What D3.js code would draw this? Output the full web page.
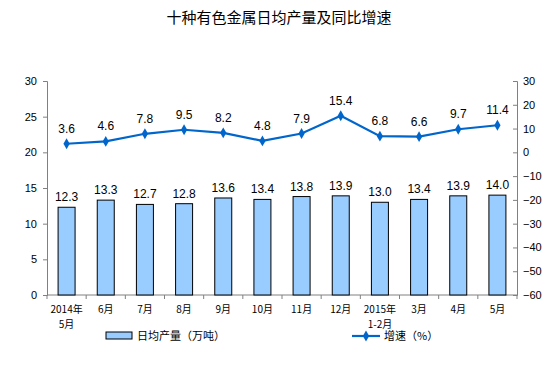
<!DOCTYPE html>
<html>
<head>
<meta charset="utf-8">
<script src="https://cdn.jsdelivr.net/npm/d3@7"></script>
<style>
  body { margin: 0; background: #fff; }
  text { font-family: "Liberation Sans", Arial, sans-serif; }
  .cjk { font-family: "Noto Sans CJK SC", sans-serif; }
</style>
</head>
<body>
<div id="chart"></div>
<script>
// data
let months = [["2014年", "5月"], ["6月"], ["7月"], ["8月"], ["9月"], ["10月"], ["11月"], ["12月"], ["2015年", "1-2月"], ["3月"], ["4月"], ["5月"]];
let output = [12.3, 13.3, 12.7, 12.8, 13.6, 13.4, 13.8, 13.9, 13.0, 13.4, 13.9, 14.0];
let growth = [3.6, 4.6, 7.8, 9.5, 8.2, 4.8, 7.9, 15.4, 6.8, 6.6, 9.7, 11.4];
let leftTicks = [0, 5, 10, 15, 20, 25, 30];
let rightTicks = [-60, -50, -40, -30, -20, -10, 0, 10, 20, 30];

let width = 554, height = 372;
let margin = { top: 81, right: 37, bottom: 77, left: 47 };
let w = width - margin.left - margin.right;
let h = height - margin.top - margin.bottom;

let svg = d3.select('#chart').append('svg')
  .attr('width', width)
  .attr('height', height);

svg.append('text')
  .attr('class', 'cjk')
  .attr('x', 279).attr('y', 23)
  .attr('text-anchor', 'middle')
  .style('font-size', '15px')
  .text('十种有色金属日均产量及同比增速');

let g = svg.append('g')
  .attr('transform', 'translate(' + margin.left + ',' + margin.top + ')');

let x = d3.scaleBand().domain(d3.range(months.length)).range([0, w]);
let yL = d3.scaleLinear().domain([0, 30]).range([h, 0]);
let yR = d3.scaleLinear().domain([-60, 30]).range([h, 0]);

let axisColor = '#808080';

// left axis
let left = g.append('g').call(d3.axisLeft(yL).tickValues(leftTicks).tickSize(4).tickPadding(6));
// right axis
let right = g.append('g').attr('transform', 'translate(' + w + ',0)')
  .call(d3.axisRight(yR).tickValues(rightTicks).tickSize(-4).tickPadding(6));
[left, right].forEach(function(a) {
  a.select('.domain').attr('stroke', axisColor);
  a.selectAll('.tick line').attr('stroke', axisColor);
  a.selectAll('.tick text').style('font-size', '11px').attr('fill', '#000');
});

// bottom axis line with ticks between categories
g.append('line')
  .attr('x1', 0).attr('x2', w).attr('y1', h).attr('y2', h)
  .attr('stroke', axisColor);
g.selectAll('.xtick').data(d3.range(months.length + 1))
  .enter().append('line')
  .attr('x1', function(d) { return d * x.step(); })
  .attr('x2', function(d) { return d * x.step(); })
  .attr('y1', h).attr('y2', h + 4)
  .attr('stroke', axisColor);

// category labels
let xl = g.selectAll('.xlabel').data(months).enter().append('text')
  .attr('class', 'cjk')
  .attr('text-anchor', 'middle')
  .style('font-size', '10px')
  .attr('transform', function(d, i) {
    return 'translate(' + (x(i) + x.bandwidth() / 2) + ',' + (h + 18) + ')';
  });
xl.each(function(d) {
  let t = d3.select(this);
  d.forEach(function(s, k) {
    t.append('tspan').attr('x', 0).attr('dy', k === 0 ? 0 : 15).text(s);
  });
});

// bars
let barW = 17;
g.selectAll('.bar').data(output).enter().append('rect')
  .attr('x', function(d, i) { return x(i) + x.bandwidth() / 2 - barW / 2; })
  .attr('y', function(d) { return yL(d); })
  .attr('width', barW)
  .attr('height', function(d) { return h - yL(d); })
  .attr('fill', '#99ccff')
  .attr('stroke', '#000')
  .attr('stroke-width', 1);

g.selectAll('.barlabel').data(output).enter().append('text')
  .attr('x', function(d, i) { return x(i) + x.bandwidth() / 2; })
  .attr('y', function(d) { return yL(d) - 6; })
  .attr('text-anchor', 'middle')
  .style('font-size', '12px')
  .text(function(d) { return d.toFixed(1); });

// growth line
let line = d3.line()
  .x(function(d, i) { return x(i) + x.bandwidth() / 2; })
  .y(function(d) { return yR(d); });

g.append('path').datum(growth)
  .attr('d', line)
  .attr('fill', 'none')
  .attr('stroke', '#0066cc')
  .attr('stroke-width', 2.2);

let diamond = d3.symbol().type(d3.symbolDiamond).size(34);
g.selectAll('.pt').data(growth).enter().append('path')
  .attr('d', diamond)
  .attr('transform', function(d, i) {
    return 'translate(' + (x(i) + x.bandwidth() / 2) + ',' + yR(d) + ')';
  })
  .attr('fill', '#0066cc');

g.selectAll('.ptlabel').data(growth).enter().append('text')
  .attr('x', function(d, i) { return x(i) + x.bandwidth() / 2; })
  .attr('y', function(d) { return yR(d) - 11; })
  .attr('text-anchor', 'middle')
  .style('font-size', '12px')
  .text(function(d) { return d.toFixed(1); });

// legend
let lg = svg.append('g').attr('transform', 'translate(0,336)');
lg.append('rect')
  .attr('x', 106).attr('y', -4).attr('width', 26).attr('height', 7)
  .attr('fill', '#99ccff').attr('stroke', '#000');
lg.append('text').attr('class', 'cjk')
  .attr('x', 137).attr('y', 4)
  .style('font-size', '11px')
  .text('日均产量（万吨）');
lg.append('line')
  .attr('x1', 352).attr('x2', 380).attr('y1', 0).attr('y2', 0)
  .attr('stroke', '#0066cc').attr('stroke-width', 2.2);
lg.append('path').attr('d', diamond)
  .attr('transform', 'translate(366,0)')
  .attr('fill', '#0066cc');
lg.append('text').attr('class', 'cjk')
  .attr('x', 384).attr('y', 4)
  .style('font-size', '11px')
  .text('增速（%）');
</script>
</body>
</html>
